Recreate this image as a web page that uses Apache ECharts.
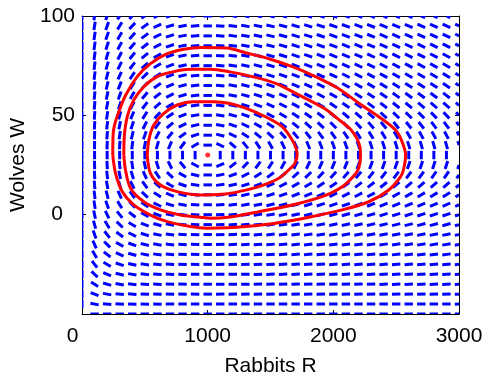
<!DOCTYPE html>
<html>
<head>
<meta charset="utf-8">
<script src="https://cdn.jsdelivr.net/npm/echarts@6/dist/echarts.min.js"></script>
<style>
html,body{margin:0;padding:0;background:#fff;}
#chart{width:486px;height:378px;}
</style>
</head>
<body>
<div id="chart"></div>
<script>
// Grid of the direction field (rabbits R, wolves W as displayed)
const rabbitGrid = [0,100,200,300,400,500,600,700,800,900,1000,1100,1200,1300,1400,1500,1600,1700,1800,1900,2000,2100,2200,2300,2400,2500,2600,2700,2800,2900,3000];
const wolfGrid = [-50,-45,-40,-35,-30,-25,-20,-15,-10,-5,0,5,10,15,20,25,30,35,40,45,50,55,60,65,70,75,80,85,90,95,100];

// Predator-prey model behind the direction field (equilibrium read at R=1000, W=30)
const rabbitGrowth = 0.08;
const predation = 0.001;
const wolfDeath = 0.02;
const wolfGain = 0.00002;
const wolfOffset = 50;

// Tick values
const xTicks = [0, 1000, 2000, 3000];
const yTicks = [-50, 0, 50, 100];

// Trajectories [R, W]
const outerOrbit = [[245,30],[246,37],[252,43],[280,49.5],[346,60],[439,69.5],[545,76],[678,81],[810,83.3],[943,84.2],[1155,83.9],[1301,81.5],[1486,78.5],[1673,74.5],[1858,69.5],[2043,63.4],[2203,56.1],[2362,49.3],[2495,42.6],[2545,37],[2575,30],[2560,23],[2534,19],[2441,12.4],[2282,6.5],[2071,2.4],[1805,-1.3],[1540,-4.3],[1301,-6],[1160,-6.6],[996,-6.8],[863,-6],[678,-3.5],[545,-0.2],[412,4.9],[320,11.6],[267,20.8],[245,30]];
const middleOrbit = [[333,30],[335,37.6],[360,49.3],[412,57.7],[492,64.4],[598,69.5],[730,72],[863,73.2],[1023,73.2],[1168,72],[1354,69.5],[1540,66.1],[1725,60.3],[1930,53.4],[2060,47],[2140,42.8],[2190,38],[2212,34],[2216,30],[2205,24],[2176,20.5],[2071,14.1],[1911,9.1],[1673,4.9],[1407,1.5],[1160,-1.3],[1023,-1.8],[943,-1.3],[784,-0.2],[625,2.4],[492,6.5],[386,13.3],[346,22.5],[333,30]];
const innerOrbit = [[519,30],[532,37.6],[571,45.1],[651,51],[758,55.2],[890,56.9],[1049,56.9],[1168,56.1],[1301,53.6],[1460,49.3],[1593,44.3],[1673,37.6],[1705,33],[1712,30],[1695,26],[1673,24.2],[1566,18.3],[1407,14.1],[1248,11.6],[1142,10.4],[943,9.9],[758,11.6],[625,14.9],[545,20.8],[519,30]];
const equilibrium = [[1000, 30]];

const fieldData = [];
rabbitGrid.forEach(r => wolfGrid.forEach(w => fieldData.push([r, w])));

const FONT = '"Liberation Sans", Arial, Helvetica, sans-serif';
const HALF = 4.2;

function clipSeg(x1, y1, x2, y2, cs) {
  const xmin = cs.x, xmax = cs.x + cs.width, ymin = cs.y, ymax = cs.y + cs.height;
  let t0 = 0, t1 = 1;
  const dx = x2 - x1, dy = y2 - y1;
  const p = [-dx, dx, -dy, dy];
  const q = [x1 - xmin, xmax - x1, y1 - ymin, ymax - y1];
  for (let i = 0; i < 4; i++) {
    if (p[i] === 0) { if (q[i] < 0) return null; }
    else {
      const t = q[i] / p[i];
      if (p[i] < 0) { if (t > t1) return null; if (t > t0) t0 = t; }
      else { if (t < t0) return null; if (t < t1) t1 = t; }
    }
  }
  return [x1 + t0 * dx, y1 + t0 * dy, x1 + t1 * dx, y1 + t1 * dy];
}

function renderField(params, api) {
  const R = api.value(0), Wd = api.value(1);
  const W = Wd + wolfOffset;
  const dR = rabbitGrowth * R - predation * R * W;
  const dW = -wolfDeath * W + wolfGain * R * W;
  const c = api.coord([R, Wd]);
  const s = api.size([1, 1]);
  let vx = dR * s[0], vy = -dW * s[1];
  const L = Math.hypot(vx, vy);
  if (L < 1e-12) return null;
  vx = vx / L * HALF; vy = vy / L * HALF;
  const seg = clipSeg(c[0] - vx, c[1] - vy, c[0] + vx, c[1] + vy, params.coordSys);
  if (!seg) return null;
  return {
    type: 'line',
    shape: { x1: seg[0], y1: seg[1], x2: seg[2], y2: seg[3] },
    style: { stroke: '#0000FF', lineWidth: 3, lineCap: 'butt' }
  };
}

function axisCommon() {
  return {
    axisLine: { show: true, onZero: false, lineStyle: { color: '#000', width: 1 } },
    axisTick: { show: true, inside: true, length: 4, lineStyle: { color: '#000' } },
    splitLine: { show: false }
  };
}

const chart = echarts.init(document.getElementById('chart'), null, { renderer: 'canvas' });
chart.setOption({
  animation: false,
  backgroundColor: '#fff',
  grid: { left: 82, right: 27, top: 16, bottom: 64, show: false, containLabel: false, outerBoundsMode: 'none' },
  xAxis: [
    Object.assign({
      type: 'value', min: xTicks[0], max: xTicks[xTicks.length - 1], interval: 1000,
      position: 'bottom',
      name: 'Rabbits R', nameLocation: 'middle', nameGap: 42,
      nameTextStyle: { color: '#000', fontSize: 21, fontFamily: FONT },
      axisLabel: {
        color: '#000', fontSize: 21, fontFamily: FONT, margin: 12,
        formatter: v => v === 0 ? '{z|0}' : String(v),
        rich: { z: { padding: [0, 19, 0, 0], fontSize: 21, fontFamily: FONT, color: '#000' } }
      }
    }, axisCommon()),
    Object.assign({
      type: 'value', min: xTicks[0], max: xTicks[xTicks.length - 1], interval: 1000,
      position: 'top', axisLabel: { show: false }
    }, axisCommon())
  ],
  yAxis: [
    Object.assign({
      type: 'value', min: yTicks[0], max: yTicks[yTicks.length - 1], interval: 50,
      position: 'left',
      name: 'Wolves W', nameLocation: 'middle', nameGap: 40,
      nameTextStyle: { color: '#000', fontSize: 21, fontFamily: FONT },
      axisLabel: {
        color: '#000', fontSize: 21, fontFamily: FONT, margin: 7,
        formatter: v => v === -50 ? '' : (v === 0 ? '{z|0}' : String(v)),
        rich: { z: { padding: [0, 12, 0, 0], fontSize: 21, fontFamily: FONT, color: '#000' } }
      }
    }, axisCommon()),
    Object.assign({
      type: 'value', min: yTicks[0], max: yTicks[yTicks.length - 1], interval: 50,
      position: 'right', axisLabel: { show: false }
    }, axisCommon())
  ],
  series: [
    {
      type: 'custom', renderItem: renderField, data: fieldData,
      xAxisIndex: 0, yAxisIndex: 0, clip: true, z: 2, silent: true
    },
    {
      type: 'line', data: outerOrbit, showSymbol: false, smooth: 0.3,
      lineStyle: { color: '#FF0000', width: 3 }, z: 3
    },
    {
      type: 'line', data: middleOrbit, showSymbol: false, smooth: 0.3,
      lineStyle: { color: '#FF0000', width: 3 }, z: 3
    },
    {
      type: 'line', data: innerOrbit, showSymbol: false, smooth: 0.3,
      lineStyle: { color: '#FF0000', width: 3 }, z: 3
    },
    {
      type: 'scatter', data: equilibrium, symbolSize: 5,
      itemStyle: { color: '#FF0000' }, z: 4
    }
  ]
});
</script>
</body>
</html>
